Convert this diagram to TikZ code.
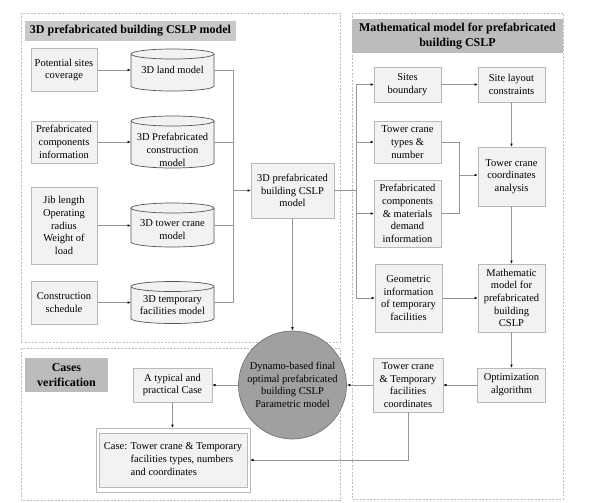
\documentclass[tikz,border=0pt]{standalone}
\usepackage{fontspec}
\setmainfont{Liberation Serif}
\usetikzlibrary{arrows.meta,backgrounds,calc}
\definecolor{boxfill}{RGB}{242,242,242}
\definecolor{boxline}{RGB}{185,185,185}
\definecolor{cylline}{RGB}{85,85,85}
\definecolor{linec}{RGB}{150,150,150}
\definecolor{titleA}{RGB}{200,200,200}
\definecolor{titleB}{RGB}{188,188,188}
\definecolor{circfill}{RGB}{160,160,160}
\definecolor{circline}{RGB}{115,115,115}
\definecolor{dashc}{RGB}{190,190,190}
\newcommand\mycyl[1]{%
  \filldraw[cylshape] ([yshift=-5pt]#1.north west) -- ([yshift=5pt]#1.south west)
    arc[start angle=180,end angle=360,x radius=41.5pt,y radius=5pt]
    -- ([yshift=-5pt]#1.north east)
    arc[start angle=0,end angle=180,x radius=41.5pt,y radius=5pt] -- cycle;
  \draw[cylshape] ([yshift=-5pt]#1.north west)
    arc[start angle=180,end angle=360,x radius=41.5pt,y radius=5pt];}
\begin{document}
\begin{tikzpicture}[x=1pt,y=1pt,
  every node/.style={font=\fontsize{10.5}{12.7}\selectfont},
  box/.style={draw=boxline, fill=boxfill, line width=0.8pt, align=center, inner sep=0pt, outer sep=0pt},
  cylnode/.style={inner sep=0pt, outer sep=0pt, minimum width=83pt},
  cyltext/.style={align=center, inner sep=0pt},
  cylshape/.style={draw=cylline, fill=boxfill, line width=0.7pt},
  titlebox/.style={fill=titleA, font=\fontsize{12}{15}\selectfont\bfseries, align=center, inner sep=0pt},
  container/.style={draw=dashc, dash pattern=on 2pt off 1.5pt, line width=0.6pt},
  conn/.style={draw=linec, line width=0.8pt},
  arr/.style={conn, -{Latex[length=3.5pt,width=2.6pt,color=black]}},
]
\useasboundingbox (0,0) rectangle (594,-503);
% containers
\draw[container] (21,-13) rectangle (340,-342);
\draw[container] (352,-13) rectangle (563,-499);
\draw[container] (21,-348) rectangle (340,-500);
% titles
\node[titlebox, minimum width=211pt, minimum height=20pt] (t1) at (130.5,-31) {3D prefabricated building CSLP model};
\node[titlebox, fill=titleB, minimum width=211pt, minimum height=34pt] (t2) at (457.5,-36) {Mathematical model for prefabricated\\building CSLP};
\node[titlebox, fill=titleB, minimum width=83pt, minimum height=34pt] (t3) at (66.5,-375) {Cases\\verification};
% left column
\node[box, minimum width=66pt, minimum height=43pt] (pot) at (64,-70) {Potential sites\\coverage};
\node[box, minimum width=66pt, minimum height=42pt] (prefinfo) at (64,-142) {Prefabricated\\components\\information};
\node[box, minimum width=66pt, minimum height=77pt] (jib) at (64,-225.5) {Jib length\\Operating\\radius\\Weight of\\load};
\node[box, minimum width=66pt, minimum height=43pt] (sched) at (64,-302.5) {Construction\\schedule};
% cylinders
\node[cylnode, minimum height=42pt, label={[cyltext]center:3D land model}] (land) at (172.5,-70) {};
\node[cylnode, minimum height=52pt, label={[cyltext,yshift=-8pt]center:{3D Prefabricated\\construction\\model}}] (prefcyl) at (172.5,-142) {};
\node[cylnode, minimum height=44pt, label={[cyltext,yshift=-4.5pt]center:{3D tower crane\\model}}] (tower) at (172.5,-225) {};
\node[cylnode, minimum height=42pt, label={[cyltext,yshift=-2.5pt]center:{3D temporary\\facilities model}}] (temp) at (172.5,-302.5) {};
% centre
\node[box, minimum width=83pt, minimum height=55pt] (center) at (292.5,-190.5) {3D prefabricated\\building CSLP\\model};
% right part
\node[box, minimum width=67pt, minimum height=35pt] (sites) at (407.5,-84.5) {Sites\\boundary};
\node[box, minimum width=67pt, minimum height=35pt] (layout) at (511.5,-84.5) {Site layout\\constraints};
\node[box, minimum width=67pt, minimum height=42pt] (types) at (407.5,-142) {Tower crane\\types \&\\number};
\node[box, minimum width=67pt, minimum height=59pt] (coords) at (511.5,-176.5) {Tower crane\\coordinates\\analysis};
\node[box, minimum width=67pt, minimum height=67pt] (prefcomp) at (407.5,-213.5) {Prefabricated\\components\\\& materials\\demand\\information};
\node[box, minimum width=67pt, minimum height=68pt] (geom) at (408.5,-298) {Geometric\\information\\of temporary\\facilities};
\node[box, minimum width=67pt, minimum height=68pt] (math) at (511.5,-298) {Mathematic\\model for\\prefabricated\\building\\CSLP};
\node[box, minimum width=68pt, minimum height=34pt] (opt) at (511.5,-385) {Optimization\\algorithm};
\node[box, minimum width=70pt, minimum height=54pt] (tcc) at (408,-385) {Tower crane\\\& Temporary\\facilities\\coordinates};
% circle
\node[circle, fill=circfill, draw=circline, line width=0.7pt, minimum size=108pt, inner sep=0pt, align=center] (dyn) at (292.5,-385) {Dynamo-based final\\optimal prefabricated\\building CSLP\\Parametric model};
% cases
\node[box, minimum width=79pt, minimum height=34pt] (typical) at (172.5,-385) {A typical and\\practical Case};
\node[draw=boxline, line width=0.8pt, minimum width=154pt, minimum height=64pt, inner sep=0pt, outer sep=0pt] (case) at (173,-460)
  {\begin{tabular}{@{}l@{ }l@{}}Case: & Tower crane \& Temporary\\ & facilities types, numbers\\ & and coordinates\end{tabular}};
% connectors left
\draw[arr] (pot.east) -- (pot.east -| land.west);
\draw[arr] (prefinfo.east) -- (prefinfo.east -| prefcyl.west);
\draw[arr] (jib.east) -- (jib.east -| tower.west);
\draw[arr] (sched.east) -- (sched.east -| temp.west);
\coordinate (colL) at (233,-190.5);
\draw[conn] (land.east) -- (land.east -| colL) -- (temp.east -| colL) -- (temp.east);
\draw[conn] (prefcyl.east) -- (prefcyl.east -| colL);
\draw[conn] (tower.east) -- (tower.east -| colL);
\draw[arr] (center.west -| colL) -- (center.west);
% connectors right
\coordinate (colR) at (356,-190.5);
\draw[conn] (center.east) -- (colR);
\draw[conn] (sites.west -| colR) -- (geom.west -| colR);
\draw[arr] (sites.west -| colR) -- (sites.west);
\draw[arr] (types.west -| colR) -- (types.west);
\draw[arr] (prefcomp.west -| colR) -- (prefcomp.west);
\draw[arr] (geom.west -| colR) -- (geom.west);
\draw[arr] (sites) -- (layout);
\draw[arr] (layout) -- (coords);
\coordinate (mergeX) at (459,-175);
\draw[conn] (types.east) -- (types.east -| mergeX) -- (prefcomp.east -| mergeX) -- (prefcomp.east);
\draw[arr] (mergeX) -- (mergeX -| coords.west);
\draw[arr] (coords) -- (math);
\draw[arr] (geom) -- (math);
\draw[arr] (math) -- (opt);
\draw[arr] (opt) -- (tcc);
\draw[arr] (tcc) -- (dyn);
\draw[arr] (dyn) -- (typical);
\draw[arr] (typical) -- (typical |- case.north);
\draw[arr] (tcc.south) |- (case.east);
\draw[arr] (center) -- (dyn);
% background
\begin{scope}[on background layer]
\fill[white] (0,0) rectangle (594,-503);
\draw[draw=boxline, fill=boxfill, line width=0.8pt] ([shift={(3pt,-5pt)}]case.north west) rectangle ([shift={(-3pt,5pt)}]case.south east);
\mycyl{land}
\mycyl{prefcyl}
\mycyl{tower}
\mycyl{temp}
\end{scope}
\end{tikzpicture}
\end{document}
